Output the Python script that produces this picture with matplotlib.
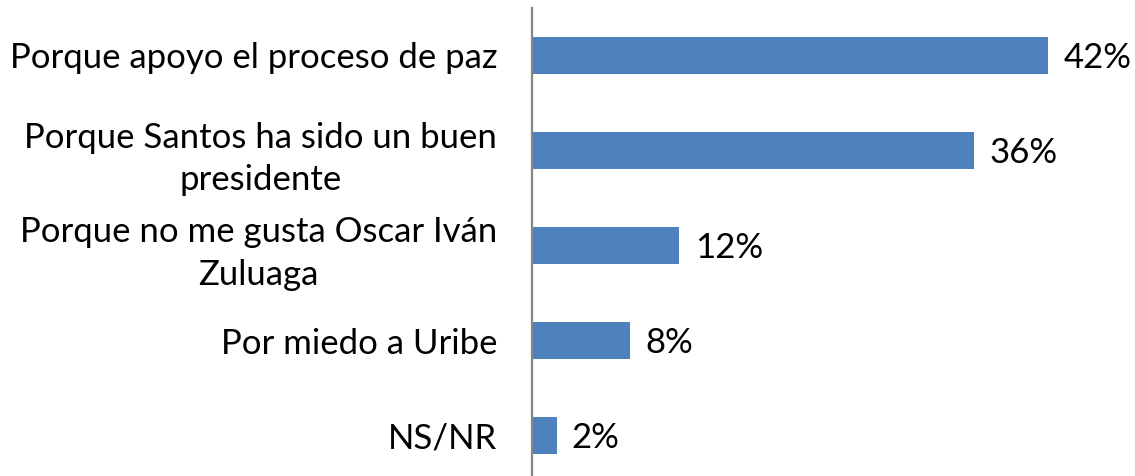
import matplotlib
matplotlib.use('Agg')
import matplotlib.pyplot as plt

categories = ['Porque apoyo el proceso de paz',
              'Porque Santos ha sido un buen\npresidente',
              'Porque no me gusta Oscar Iván\nZuluaga',
              'Por miedo a Uribe',
              'NS/NR']
values = [42, 36, 12, 8, 2]
value_labels = ['42%', '36%', '12%', '8%', '2%']

plt.rcParams['font.family'] = ['Lato', 'DejaVu Sans']

W, H = 1135, 476
fig = plt.figure(figsize=(W / 100, H / 100), dpi=100)
x0 = 532
px_per_unit = 12.29
ax = fig.add_axes([x0 / W, -7 / H, (W - x0) / W, (476 - 8 + 7) / H])

ypos = list(range(len(categories)))
ax.barh(ypos, values, height=0.39, color='#4F81BD', zorder=2)
ax.set_xlim(0, (W - x0) / px_per_unit)
ax.set_ylim(4.5, -0.5)

for y, v, lab in zip(ypos, values, value_labels):
    ax.annotate(lab, (v, y), xytext=(11, -2), textcoords='offset points',
                va='center', ha='left', fontsize=25, color='black')

ax.set_yticks(ypos)
ax.set_yticklabels(categories, fontsize=25, multialignment='center',
                   linespacing=1.4)
ax.tick_params(axis='y', length=0, pad=25)
ax.set_xticks([])
for s in ['top', 'right', 'bottom']:
    ax.spines[s].set_visible(False)
ax.spines['left'].set_color('#868686')
ax.spines['left'].set_linewidth(1.6)
ax.spines['left'].set_zorder(3)

fig.savefig('out.png', dpi=100)
